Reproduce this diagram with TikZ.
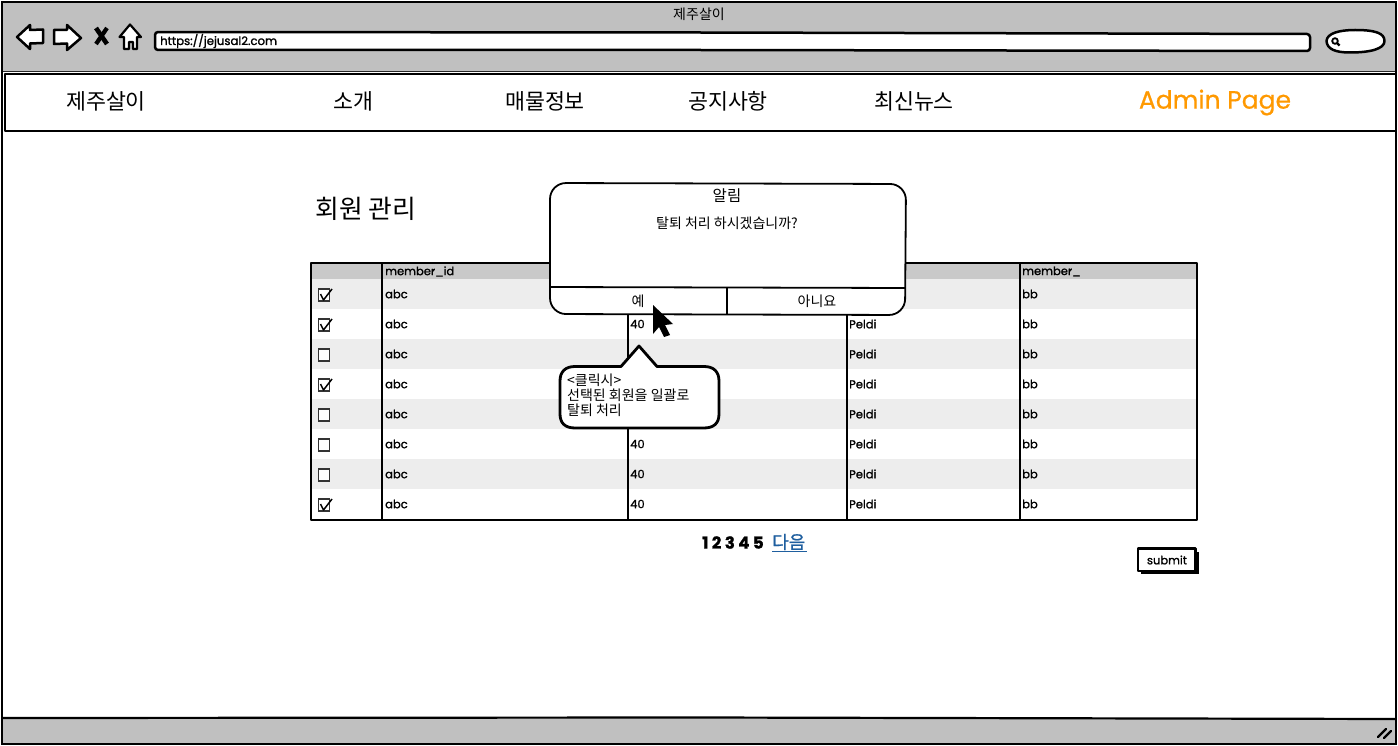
\documentclass[tikz,border=0pt]{standalone}
\usepackage{fontspec}
\setmainfont{Poppins}[FakeBold=1.3]
\newfontfamily\headfont{Poppins}[FakeBold=0.6]
\newfontfamily\krfont{Noto Sans CJK KR}
\newfontfamily\krmedfont{Noto Sans CJK KR}[FakeBold=0.8]
\usetikzlibrary{calc}
\definecolor{barGray}{HTML}{C0C0C0}
\definecolor{headGray}{HTML}{C9C9C9}
\definecolor{rowGray}{HTML}{EDEDED}
\definecolor{linkBlue}{HTML}{1F5F9F}
\definecolor{adminOrange}{HTML}{FF9900}
\tikzset{
  cell/.style={anchor=west, inner sep=0pt, font=\fontsize{11.5}{12}\selectfont, text=black},
  menu/.style={inner sep=0pt, font=\krfont\fontsize{21.7}{22}\selectfont},
  label/.style={inner sep=0pt, font=\krfont\fontsize{14}{14}\selectfont},
  ink/.style={line width=2.2pt, line join=round},
  tick/.style={line width=1.5pt, line join=round},
  box/.style={line width=1.3pt, draw=black!80, fill=white}
}
\begin{document}
\begin{tikzpicture}[x=1pt, y=-1pt]
  \useasboundingbox (0,0) rectangle (1398,746);
  \fill[white] (0,0) rectangle (1398,746);

  \fill[barGray] (2,2) rectangle (1396,71.5);
  \fill[barGray] (2,718) rectangle (1396,744);
  \draw[line width=1.2pt, black!85] (2,71.5) -- (1396,71.5);
  \draw[ink] (2,718) -- (700,717.5) -- (1396,719);
  \draw[line width=2.6pt] (2,2) rectangle (1396,744);
  \node[label] (title) at (699,14) {제주살이};

  \draw[ink, line width=2.5pt, fill=white] (17,37) -- (30,25) -- (30,30) -- (43,29.5) -- (43,43) -- (30,43.5) -- (30,49) -- cycle;
  \draw[ink, line width=2.5pt, fill=white] (81,38) -- (67,25) -- (67,30) -- (54,30) -- (54,44) -- (67,43.5) -- (67,50) -- cycle;
  \draw[line width=4.6pt] (96,28) -- (107,44);
  \draw[line width=4.2pt] (107,28) -- (96,44);
  \draw[ink, fill=white] (130,24.5) -- (119.5,37) -- (124,37) -- (124,49) -- (129,49) -- (129,42) -- (133,42) -- (133,49) -- (137,49) -- (137,37) -- (141,37) -- cycle;

  \draw[ink, line width=2.5pt, fill=white, rounded corners=3pt] (155,32) -- (700,32.5) -- (1310,34) -- (1310,51) -- (700,50) -- (155,50) -- cycle;
  \node[anchor=west, inner sep=0pt, font=\fontsize{11.7}{12}\selectfont] (url) at (160,41) {https://jejusal2.com};
  \draw[ink, line width=2.5pt, fill=white] (1326.5,41) .. controls (1327,33) and (1340,30) .. (1355,30) .. controls (1375,30) and (1384.5,33) .. (1384.5,41) .. controls (1384.5,49) and (1370,52.5) .. (1350,52.5) .. controls (1335,52.5) and (1327,49) .. cycle;
  \draw[line width=1.8pt] (1335,41) circle (2.8);
  \draw[line width=2.2pt] (1337,43) -- (1339.5,45.5);

  \draw[ink, line width=1.8pt, fill=white] (5,74) -- (1396,74) -- (1396,131) -- (5,131) -- cycle;
  \node[menu] (brand) at (106,101) {제주살이};
  \node[menu] (about) at (353,101) {소개};
  \node[menu] (sale) at (545,101) {매물정보};
  \node[menu] (notice) at (728,101) {공지사항};
  \node[menu] (news) at (914,101) {최신뉴스};
  \node[inner sep=0pt, text=adminOrange, font=\headfont\fontsize{25}{25}\selectfont] (admin) at (1215,102.5) {Admin Page};

  \node[inner sep=0pt, font=\krfont\fontsize{25.8}{26}\selectfont] (heading) at (366,208.5) {회원 관리};

  \fill[headGray] (311,263) rectangle (1197,279);
  \foreach \ry in {279,339,399,459}
    \fill[rowGray] (311,\ry) rectangle (1197,\ry+30);
  \draw[ink] (311,263) rectangle (1197,520);
  \foreach \cx in {382,628,847,1020}
    \draw[ink] (\cx,263) -- (\cx,520);

  \node[cell] (idhead) at (385,271.5) {member\_id};
  \node[cell] (lasthead) at (1022,271.5) {member\_};
  \foreach \r in {1,...,8} {
    \node[cell] (abc\r) at (385,264+30*\r) {abc};
    \node[cell] (bb\r) at (1022,264+30*\r) {bb};
    \draw[box] (318.5,259+30*\r) rectangle (329.5,271+30*\r);
  }
  \foreach \r in {2,...,8}
    \node[cell] (peldi\r) at (849,264+30*\r) {Peldi};
  \foreach \r in {2,6,7,8}
    \node[cell] (age\r) at (630,264+30*\r) {40};
  \foreach \r in {1,2,4,8}
    \draw[tick] (320.5,264+30*\r) -- (323.5,270+30*\r) -- (332,259+30*\r);

  \draw[ink, line width=2.8pt, fill=white] (575,366.5) -- (621,366.5) -- (639,346) -- (657,366.5) -- (704,366.5) .. controls (714,366.5) and (719,372) .. (719,381) -- (719,414) .. controls (719,423) and (714,428) .. (704,428) -- (575,428) .. controls (565,428) and (560,423) .. (560,414) -- (560,381) .. controls (560,372) and (565,366.5) .. cycle;
  \node[anchor=north west, inner sep=0pt, align=left, font=\krfont\fontsize{14}{15}\selectfont] (note) at (567,374) {<클릭시>\\선택된 회원을 일괄로\\탈퇴 처리};

  \draw[ink, line width=1.8pt, fill=white, rounded corners=16pt] (550,183) -- (906,184) -- (905,315) -- (550,314) -- cycle;
  \draw[ink, line width=1.8pt] (550,287) -- (905,288);
  \draw[ink, line width=1.8pt] (727,288) -- (727,315);
  \node[inner sep=0pt, font=\krfont\fontsize{15.5}{16}\selectfont] (alert) at (727,195.5) {알림};
  \node[label] (ask) at (727,223) {탈퇴 처리 하시겠습니까?};
  \node[label] (yes) at (638,301) {예};
  \node[label] (no) at (817,301) {아니요};

  \fill[black] (653,305) -- (673,324) -- (665,325) -- (670,335) -- (664,337) -- (659,327) -- (653,334) -- cycle;

  \node[inner sep=0pt, anchor=west, font=\bfseries\fontsize{16.5}{17}\selectfont] (pages) at (702,542.5) {1 2 3 4 5};
  \node[inner sep=0pt, anchor=west, text=linkBlue, font=\krmedfont\fontsize{18}{18}\selectfont] (next) at (772,542) {다음};
  \draw[linkBlue, line width=1.4pt] (772,551.5) -- (807,551.5);

  \fill[black] (1141,552) rectangle (1198.5,574);
  \draw[ink, fill=white] (1138,548.5) rectangle (1195.5,571);
  \node[inner sep=0pt, font=\fontsize{11.5}{12}\selectfont] (submit) at (1167,560) {submit};

  \draw[line width=2.4pt, line cap=round] (1378,737) -- (1386,729);
  \draw[line width=2.4pt, line cap=round] (1384,738) -- (1391,731);
\end{tikzpicture}
\end{document}
